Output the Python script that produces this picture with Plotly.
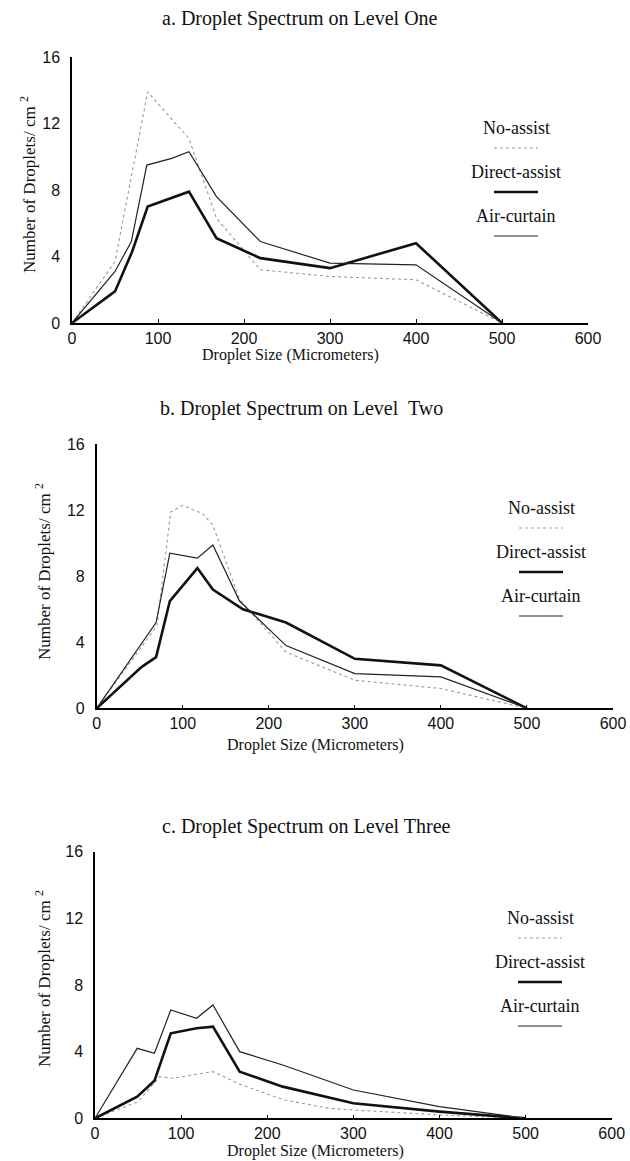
import plotly.graph_objects as go

W, H = 630, 1161

# ---------------- data ----------------
titles = ["a. Droplet Spectrum on Level One",
          "b. Droplet Spectrum on Level\u00a0 Two",
          "c. Droplet Spectrum on Level Three"]
series_names = ["No-assist", "Direct-assist", "Air-curtain"]
x_ticks = [0, 100, 200, 300, 400, 500, 600]
y_ticks = [0, 4, 8, 12, 16]

# Level one
a_no_x = [0, 50, 88, 136, 168, 219, 300, 400, 500]
a_no_y = [0, 3.7, 13.9, 11.1, 6.3, 3.2, 2.8, 2.6, 0]
a_direct_x = [0, 50, 70, 88, 136, 168, 219, 300, 400, 500]
a_direct_y = [0, 1.9, 4.3, 7.0, 7.9, 5.1, 3.9, 3.3, 4.8, 0]
a_air_x = [0, 50, 69, 87, 116, 136, 168, 219, 300, 400, 500]
a_air_y = [0, 3.1, 4.9, 9.5, 9.9, 10.3, 7.6, 4.9, 3.6, 3.5, 0]

# Level two
b_no_x = [0, 50, 70, 86, 100, 123, 135, 166, 220, 300, 400, 500]
b_no_y = [0, 3.6, 5.0, 11.9, 12.3, 11.8, 11.1, 6.6, 3.4, 1.7, 1.2, 0]
b_direct_x = [0, 52, 69, 85, 117, 135, 170, 220, 300, 400, 500]
b_direct_y = [0, 2.5, 3.1, 6.5, 8.5, 7.2, 6.0, 5.2, 3.0, 2.6, 0]
b_air_x = [0, 69, 85, 117, 135, 166, 220, 300, 400, 500]
b_air_y = [0, 5.2, 9.4, 9.1, 9.9, 6.5, 3.8, 2.1, 1.9, 0]

# Level three
c_no_x = [0, 50, 75, 90, 137, 170, 220, 272, 300, 400, 500]
c_no_y = [0, 1.0, 2.5, 2.4, 2.8, 2.0, 1.1, 0.6, 0.5, 0.2, 0]
c_direct_x = [0, 49, 69, 88, 118, 137, 168, 218, 300, 400, 500]
c_direct_y = [0, 1.3, 2.25, 5.1, 5.4, 5.5, 2.8, 1.9, 0.9, 0.4, 0]
c_air_x = [0, 49, 69, 88, 118, 137, 168, 218, 300, 400, 500]
c_air_y = [0, 4.2, 3.9, 6.5, 6.0, 6.8, 4.0, 3.2, 1.7, 0.7, 0]

panels = [
    (a_no_x, a_no_y, a_direct_x, a_direct_y, a_air_x, a_air_y),
    (b_no_x, b_no_y, b_direct_x, b_direct_y, b_air_x, b_air_y),
    (c_no_x, c_no_y, c_direct_x, c_direct_y, c_air_x, c_air_y),
]

# ---------------- styling / layout (pixels) ----------------
# plot area: (x of 0, x of 600, y of 0, y of 16)
boxes = [(72, 588, 323, 57), (96.7, 613, 708.3, 444.3), (95, 611.7, 1118.3, 851.7)]
title_pos = [(300, 18), (301, 408), (306, 826)]
xtitle_pos = [(290, 355), (315, 745), (315, 1151)]
ytitle_pos = [(28, 185), (43, 571), (43, 978)]
legend_pos = [(516, 128), (541, 508), (540, 918)]  # centre x, y of first label

def px(x):
    return x / W

def py(y):
    return 1 - y / H

serif = "Liberation Serif, Times New Roman, serif"
sans = "Liberation Sans, Arial, sans-serif"

styles = [dict(color="#9a9a9a", width=1.1, dash="dot"),
          dict(color="#111111", width=2.6),
          dict(color="#222222", width=1.2)]

fig = go.Figure()
layout = dict(template="none", width=W, height=H, margin=dict(l=0, r=0, t=0, b=0, pad=0),
              paper_bgcolor="white", plot_bgcolor="white", showlegend=False)
annotations = []
shapes = []

def note(text, x, y, size, family=serif, angle=0):
    annotations.append(dict(text=text, x=px(x), y=py(y), xref="paper", yref="paper",
                            xanchor="center", yanchor="middle", showarrow=False,
                            textangle=angle, font=dict(family=family, size=size, color="#111")))

for i, (data, box) in enumerate(zip(panels, boxes)):
    sfx = "" if i == 0 else str(i + 1)
    xa, ya = "x" + sfx, "y" + sfx
    for k in range(3):
        fig.add_trace(go.Scatter(x=data[2 * k], y=data[2 * k + 1], mode="lines",
                                 name=series_names[k], line=styles[k],
                                 xaxis=xa, yaxis=ya, cliponaxis=False))
    x0, x1, y0, y1 = box
    layout["xaxis" + sfx] = dict(domain=[px(x0), px(x1)], range=[0, 600], anchor=ya,
                                 automargin=False,
                                 showline=True, linecolor="black", linewidth=1.5,
                                 ticks="inside", ticklen=4, tickcolor="black", tickwidth=1,
                                 tickvals=x_ticks, showgrid=False, zeroline=False,
                                 ticklabelstandoff=0,
                                 tickfont=dict(family=sans, size=16, color="#111"))
    layout["yaxis" + sfx] = dict(domain=[py(y0), py(y1)], range=[0, 16], anchor=xa,
                                 automargin=False,
                                 showline=True, linecolor="black", linewidth=1.5,
                                 ticks="", tickvals=y_ticks, showgrid=False,
                                 zeroline=False, ticklabelstandoff=7,
                                 tickfont=dict(family=sans, size=16, color="#111"))
    note(titles[i], *title_pos[i], 20)
    note("Droplet Size (Micrometers)", *xtitle_pos[i], 16)
    note("Number of Droplets/ cm <sup>2</sup>", *ytitle_pos[i], 17, angle=-90)
    lx, ly = legend_pos[i]
    for k in range(3):
        yy = ly + k * 44
        note(series_names[k], lx, yy, 18)
        shapes.append(dict(type="line", xref="paper", yref="paper",
                           x0=px(lx - 22), x1=px(lx + 22), y0=py(yy + 20), y1=py(yy + 20),
                           line=styles[k]))

layout["annotations"] = annotations
layout["shapes"] = shapes
fig.update_layout(**layout)
fig.write_html("out.html", config={"displayModeBar": False})

# remove the browser's default page margin so the figure sits at the top-left corner
with open("out.html", encoding="utf-8") as f:
    html = f.read()
html = html.replace("<head>", "<head><style>html,body{margin:0;padding:0;overflow:hidden}</style>", 1)
with open("out.html", "w", encoding="utf-8") as f:
    f.write(html)
